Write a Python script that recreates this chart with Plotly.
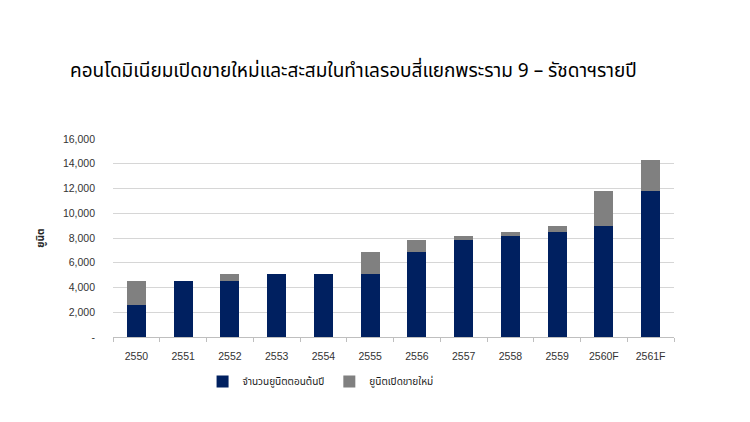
import plotly.graph_objects as go

# ปี (แกน x)
years = ["2550", "2551", "2552", "2553", "2554", "2555",
         "2556", "2557", "2558", "2559", "2560F", "2561F"]

# จำนวนยูนิตตอนต้นปี
units_start = [2550, 4500, 4550, 5070, 5070, 5070,
               6880, 7870, 8160, 8500, 8930, 11800]

# ยูนิตเปิดขายใหม่
units_new = [1950, 0, 520, 0, 0, 1820,
             980, 290, 340, 470, 2870, 2520]

y_ticks = [0, 2000, 4000, 6000, 8000, 10000, 12000, 14000, 16000]
y_ticktext = ["-", "2,000", "4,000", "6,000", "8,000",
              "10,000", "12,000", "14,000", "16,000"]

thai_font = "Tahoma, 'Noto Sans Thai', 'Noto Sans', sans-serif"
num_font = "Arial, 'Liberation Sans', sans-serif"

# die Seite hat 8px body-margin -> alles um 8px nach links/oben schieben
off = 8

fig = go.Figure()
fig.add_bar(x=years, y=units_start, name="จำนวนยูนิตตอนต้นปี",
            marker=dict(color="#002060", line=dict(width=0)))
fig.add_bar(x=years, y=units_new, name="ยูนิตเปิดขายใหม่",
            marker=dict(color="#808080", line=dict(width=0)))

fig.update_layout(
    barmode="stack",
    bargap=0.59,
    width=750,
    height=422,
    paper_bgcolor="white",
    plot_bgcolor="white",
    font=dict(family=thai_font, color="#404040", size=10),
    margin=dict(l=113 - off, r=76 + off, t=139 - off, b=85 + off),
    title=dict(
        text="คอนโดมิเนียมเปิดขายใหม่และสะสมในทำเลรอบสี่แยกพระราม 9 – รัชดาฯรายปี",
        x=(70 - off) / 750, xanchor="left",
        y=1 - (70 - off) / 422, yanchor="middle",
        font=dict(size=19, color="#000000", family=thai_font),
    ),
    legend=dict(
        orientation="h",
        x=0.37, xanchor="center",
        y=-0.225, yanchor="middle",
        font=dict(size=10, color="#1a1a1a"),
        traceorder="normal",
        itemwidth=30,
    ),
    showlegend=True,
)

fig.update_xaxes(
    showline=True, linecolor="#bfbfbf", linewidth=1,
    ticks="outside", tickson="boundaries", ticklen=4, tickcolor="#bfbfbf",
    ticklabelstandoff=9,
    tickfont=dict(size=10.5, color="#333333", family=num_font),
    showgrid=False,
)
fig.update_yaxes(
    range=[0, 16000],
    tickvals=y_ticks, ticktext=y_ticktext,
    showgrid=True, gridcolor="#d6d6d6", gridwidth=1,
    zeroline=False, showline=False,
    ticklabelstandoff=17,
    tickfont=dict(size=10.5, color="#333333", family=num_font),
    title=dict(text="ยูนิต", font=dict(size=10, color="#262626", weight="bold"), standoff=16),
)

fig.write_html("out.html")
